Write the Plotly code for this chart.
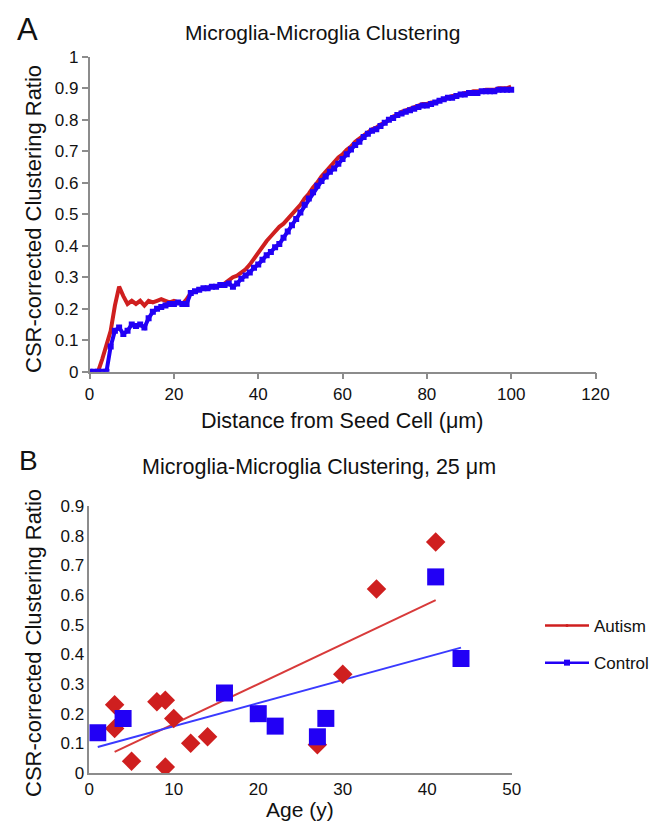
import numpy as np
import plotly.graph_objects as go

# ---------------- Panel A data ----------------
distance_um = list(range(0, 101))
autism_curve = [0, 0, 0, 0.04, 0.09, 0.13, 0.21, 0.27, 0.24, 0.215,
                0.225, 0.215, 0.225, 0.21, 0.225, 0.22, 0.225, 0.23, 0.225, 0.22,
                0.225, 0.22, 0.215, 0.23, 0.25, 0.255, 0.26, 0.265, 0.265, 0.27,
                0.27, 0.275, 0.28, 0.29, 0.30, 0.305, 0.315, 0.325, 0.34, 0.36,
                0.38, 0.40, 0.415, 0.43, 0.445, 0.46, 0.47, 0.485, 0.50, 0.515,
                0.53, 0.55, 0.565, 0.585, 0.60, 0.62, 0.635, 0.65, 0.665, 0.68,
                0.69, 0.705, 0.715, 0.73, 0.74, 0.75, 0.76, 0.77, 0.775, 0.785,
                0.79, 0.80, 0.81, 0.815, 0.825, 0.83, 0.835, 0.84, 0.845, 0.85,
                0.85, 0.855, 0.855, 0.86, 0.865, 0.87, 0.875, 0.875, 0.88, 0.885,
                0.885, 0.89, 0.89, 0.89, 0.895, 0.895, 0.895, 0.90, 0.90, 0.90,
                0.905]
control_curve = [0, 0, 0, 0, 0, 0.08, 0.13, 0.14, 0.12, 0.13,
                 0.15, 0.145, 0.15, 0.14, 0.17, 0.19, 0.20, 0.205, 0.21, 0.215,
                 0.215, 0.22, 0.215, 0.215, 0.25, 0.255, 0.26, 0.265, 0.265, 0.27,
                 0.27, 0.275, 0.275, 0.28, 0.27, 0.28, 0.295, 0.305, 0.315, 0.33,
                 0.34, 0.355, 0.37, 0.38, 0.395, 0.405, 0.425, 0.445, 0.465, 0.485,
                 0.505, 0.53, 0.55, 0.57, 0.59, 0.605, 0.62, 0.635, 0.645, 0.66,
                 0.675, 0.69, 0.705, 0.72, 0.73, 0.745, 0.755, 0.765, 0.77, 0.78,
                 0.79, 0.80, 0.805, 0.815, 0.82, 0.825, 0.83, 0.835, 0.84, 0.845,
                 0.845, 0.85, 0.855, 0.86, 0.865, 0.87, 0.87, 0.875, 0.88, 0.88,
                 0.885, 0.885, 0.885, 0.89, 0.89, 0.89, 0.89, 0.895, 0.895, 0.895,
                 0.895]

# ---------------- Panel B data ----------------
autism_age = [3, 3, 5, 8, 9, 9, 10, 12, 14, 27, 30, 34, 41]
autism_ratio = [0.23, 0.15, 0.04, 0.24, 0.245, 0.02, 0.184, 0.10, 0.122, 0.095, 0.333, 0.62, 0.779]
control_age = [1, 4, 16, 20, 22, 27, 28, 41, 44]
control_ratio = [0.136, 0.184, 0.27, 0.20, 0.158, 0.122, 0.184, 0.661, 0.386]

RED = "#cf1f1f"
BLUE = "#2200f5"
FONT = "Liberation Sans, Arial, Helvetica, sans-serif"
AXIS_GRAY = "#8c8c8c"

fig = go.Figure()

# Panel A curves
fig.add_trace(go.Scatter(x=distance_um, y=autism_curve, mode="lines",
                         line=dict(color=RED, width=4), showlegend=False,
                         xaxis="x", yaxis="y"))
fig.add_trace(go.Scatter(x=distance_um, y=control_curve, mode="lines+markers",
                         line=dict(color=BLUE, width=4),
                         marker=dict(symbol="square", size=6, color=BLUE),
                         showlegend=False, xaxis="x", yaxis="y"))

# Panel B trend lines (least-squares fits of the plotted points)
def fit_line(xs, ys):
    k, b = np.polyfit(xs, ys, 1)
    xx = [min(xs), max(xs)]
    return xx, [k * v + b for v in xx]

ax_x, ax_y = fit_line(autism_age, autism_ratio)
cx_x, cx_y = fit_line(control_age, control_ratio)

fig.add_trace(go.Scatter(x=ax_x, y=ax_y, mode="lines", line=dict(color="#d83a3a", width=2),
                         showlegend=False, xaxis="x2", yaxis="y2"))
fig.add_trace(go.Scatter(x=cx_x, y=cx_y, mode="lines", line=dict(color="#3a3aff", width=2),
                         showlegend=False, xaxis="x2", yaxis="y2"))

# Panel B scatter points
fig.add_trace(go.Scatter(x=autism_age, y=autism_ratio, mode="markers",
                         marker=dict(symbol="diamond", size=15, color=RED),
                         showlegend=False, xaxis="x2", yaxis="y2"))
fig.add_trace(go.Scatter(x=control_age, y=control_ratio, mode="markers",
                         marker=dict(symbol="square", size=17, color=BLUE),
                         showlegend=False, xaxis="x2", yaxis="y2"))

# Legend entries
fig.add_trace(go.Scatter(x=[None], y=[None], mode="lines+markers", name="Autism",
                         line=dict(color=RED, width=2.5), marker=dict(size=3, color=RED),
                         legendgroup="a", xaxis="x2", yaxis="y2"))
fig.add_trace(go.Scatter(x=[None], y=[None], mode="lines+markers", name="Control",
                         line=dict(color=BLUE, width=2.5),
                         marker=dict(symbol="square", size=6, color=BLUE),
                         legendgroup="c", xaxis="x2", yaxis="y2"))

# The page places the figure 8 px from the top-left corner of the window
OFF = 8
W, H = 665 - OFF, 822 - OFF
def px_x(p):
    return (p - OFF) / W
def px_y(p):
    return 1 - (p - OFF) / H

tickfont = dict(family=FONT, size=17, color="#111")

fig.update_layout(
    width=W, height=H,
    margin=dict(l=0, r=0, t=0, b=0, autoexpand=False),
    paper_bgcolor="white", plot_bgcolor="white",
    font=dict(family=FONT, color="#111"),
    xaxis=dict(domain=[px_x(89.6), px_x(595.5)], range=[0, 120], dtick=20,
               showgrid=False, zeroline=False, showline=True, linecolor=AXIS_GRAY, linewidth=1.5,
               ticks="outside", ticklen=6, tickcolor=AXIS_GRAY, tickwidth=1.5,
               tickfont=tickfont, anchor="y", automargin=False),
    yaxis=dict(domain=[px_y(371.7), px_y(56.7)], range=[0, 1], dtick=0.1,
               showgrid=False, zeroline=False, showline=True, linecolor=AXIS_GRAY, linewidth=1.5,
               ticks="outside", ticklen=6, tickcolor=AXIS_GRAY, tickwidth=1.5,
               tickfont=tickfont, anchor="x", automargin=False),
    xaxis2=dict(domain=[px_x(89.3), px_x(511.7)], range=[0, 50], dtick=10,
                showgrid=False, zeroline=False, showline=True, linecolor=AXIS_GRAY, linewidth=1.5,
                ticks="", tickfont=tickfont, anchor="y2", automargin=False),
    yaxis2=dict(domain=[px_y(773), px_y(506)], range=[0, 0.9], dtick=0.1,
                showgrid=False, zeroline=False, showline=True, linecolor=AXIS_GRAY, linewidth=1.5,
                ticks="", tickfont=tickfont, anchor="x2", automargin=False),
    legend=dict(x=px_x(540), y=px_y(608), xanchor="left", yanchor="top",
                font=dict(family=FONT, size=17, color="#111"),
                tracegroupgap=12, itemwidth=44, bgcolor="rgba(0,0,0,0)"),
)

annotations = [
    dict(text="A", x=px_x(27), y=px_y(29), xanchor="center", yanchor="middle",
         font=dict(size=31, family=FONT, color="#111")),
    dict(text="Microglia-Microglia Clustering", x=px_x(322), y=px_y(32),
         xanchor="center", yanchor="middle", font=dict(size=21, family=FONT, color="#111")),
    dict(text="CSR-corrected Clustering Ratio", x=px_x(33), y=px_y(219), textangle=-90,
         xanchor="center", yanchor="middle", font=dict(size=22, family=FONT, color="#111")),
    dict(text="Distance from Seed Cell (μm)", x=px_x(342), y=px_y(421),
         xanchor="center", yanchor="middle", font=dict(size=21.5, family=FONT, color="#111")),
    dict(text="B", x=px_x(28), y=px_y(460), xanchor="center", yanchor="middle",
         font=dict(size=28, family=FONT, color="#111")),
    dict(text="Microglia-Microglia Clustering, 25 μm", x=px_x(319), y=px_y(467),
         xanchor="center", yanchor="middle", font=dict(size=21.5, family=FONT, color="#111")),
    dict(text="CSR-corrected Clustering Ratio", x=px_x(33), y=px_y(643), textangle=-90,
         xanchor="center", yanchor="middle", font=dict(size=22, family=FONT, color="#111")),
    dict(text="Age (y)", x=px_x(300), y=px_y(809),
         xanchor="center", yanchor="middle", font=dict(size=21, family=FONT, color="#111")),
]
for a in annotations:
    a.update(xref="paper", yref="paper", showarrow=False)
fig.update_layout(annotations=annotations)

fig.write_html("out.html")
